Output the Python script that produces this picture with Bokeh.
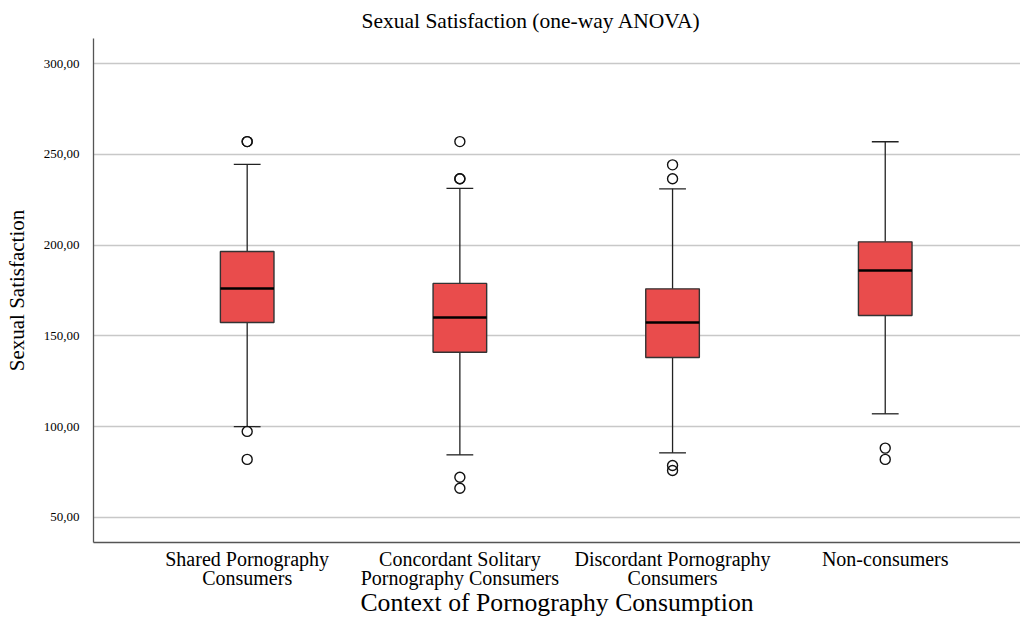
import numpy as np
from bokeh.plotting import figure
from bokeh.models import FixedTicker, Range1d, ColumnDataSource
from bokeh.embed import file_html
from bokeh.resources import INLINE

categories = ["Shared Pornography\nConsumers",
              "Concordant Solitary\nPornography Consumers",
              "Discordant Pornography\nConsumers",
              "Non-consumers"]
q1 = [157.4, 141.0, 138.1, 161.2]
median = [176.1, 160.1, 157.4, 186.0]
q3 = [196.5, 178.9, 175.9, 201.8]
whisker_low = [100.0, 84.5, 85.6, 107.1]
whisker_high = [244.4, 231.2, 231.0, 256.9]
outlier_group = [0, 0, 0, 0, 1, 1, 1, 1, 1, 2, 2, 2, 2, 3, 3]
outlier_value = [257.0, 257.0, 97.4, 82.0,
                 257.0, 236.5, 236.5, 72.2, 66.1,
                 244.2, 236.5, 78.6, 75.9,
                 88.2, 82.0]
y_ticks = [50, 100, 150, 200, 250, 300]
title_text = "Sexual Satisfaction (one-way ANOVA)"
x_title = "Context of Pornography Consumption"
y_title = "Sexual Satisfaction"

FONT = "Liberation Serif"
pos = np.arange(1, len(categories) + 1)
box_w = 0.252
cap_w = 0.126

p = figure(width=1020, height=620, output_backend="svg", toolbar_location=None,
           x_range=Range1d(0.2774, 4.636), y_range=Range1d(36.23, 313.77),
           min_border_left=93, min_border_top=38, min_border_right=0,
           min_border_bottom=78)
p.outline_line_color = None
p.background_fill_color = "white"
p.border_fill_color = "white"

p.title.text = title_text
p.title.text_font = FONT
p.title.text_font_size = "21.5px"
p.title.text_font_style = "normal"
p.title.text_color = "#000000"
p.title.align = "left"
p.title.offset = 268
p.title.standoff = 11

src = ColumnDataSource(dict(x=pos, q1=q1, q3=q3, med=median, lo=whisker_low, hi=whisker_high,
                            x0=pos - box_w / 2, x1=pos + box_w / 2,
                            c0=pos - cap_w / 2, c1=pos + cap_w / 2))

# whiskers
p.segment(x0="x", y0="q3", x1="x", y1="hi", source=src, line_color="#222222", line_width=1.3)
p.segment(x0="x", y0="q1", x1="x", y1="lo", source=src, line_color="#222222", line_width=1.3)
p.segment(x0="c0", y0="hi", x1="c1", y1="hi", source=src, line_color="#222222", line_width=1.3)
p.segment(x0="c0", y0="lo", x1="c1", y1="lo", source=src, line_color="#222222", line_width=1.3)
# boxes
p.vbar(x="x", top="q3", bottom="q1", width=box_w, source=src,
       fill_color="#E94C4C", line_color="#333333", line_width=1.4)
# medians
p.segment(x0="x0", y0="med", x1="x1", y1="med", source=src, line_color="#000000", line_width=2.6)
# outliers
p.scatter(x=[pos[g] for g in outlier_group], y=outlier_value, marker="circle", size=10,
          fill_color=None, line_color="#111111", line_width=1.4)

# axes
p.xaxis.ticker = FixedTicker(ticks=list(pos))
p.xaxis.major_label_overrides = {int(x): c for x, c in zip(pos, categories)}
p.yaxis.ticker = FixedTicker(ticks=y_ticks)
p.yaxis.major_label_overrides = {t: f"{t},00" for t in y_ticks}

for ax in (p.xaxis, p.yaxis):
    ax.major_tick_line_color = None
    ax.minor_tick_line_color = None
    ax.axis_line_color = "#555555"
    ax.axis_line_width = 1.3
    ax.major_label_text_font = FONT
    ax.major_label_text_color = "#000000"
    ax.axis_label_text_font = FONT
    ax.axis_label_text_font_style = "normal"
    ax.axis_label_text_color = "#000000"

p.yaxis.major_label_text_font_size = "13px"
p.yaxis.major_label_standoff = 8
p.yaxis.axis_label = y_title
p.yaxis.axis_label_text_font_size = "21px"
p.yaxis.axis_label_standoff = 12

p.xaxis.major_label_text_font_size = "20px"
p.xaxis.major_label_text_line_height = 0.87
p.xaxis.major_label_standoff = -1
p.xaxis.axis_label = x_title
p.xaxis.axis_label_text_font_size = "25.7px"
p.xaxis.axis_label_text_line_height = 1.0
p.xaxis.axis_label_standoff = -4

p.xgrid.grid_line_color = None
p.ygrid.grid_line_color = "#c8c8c8"
p.ygrid.grid_line_width = 1.3

open("out.html", "w").write(file_html(p, INLINE))
